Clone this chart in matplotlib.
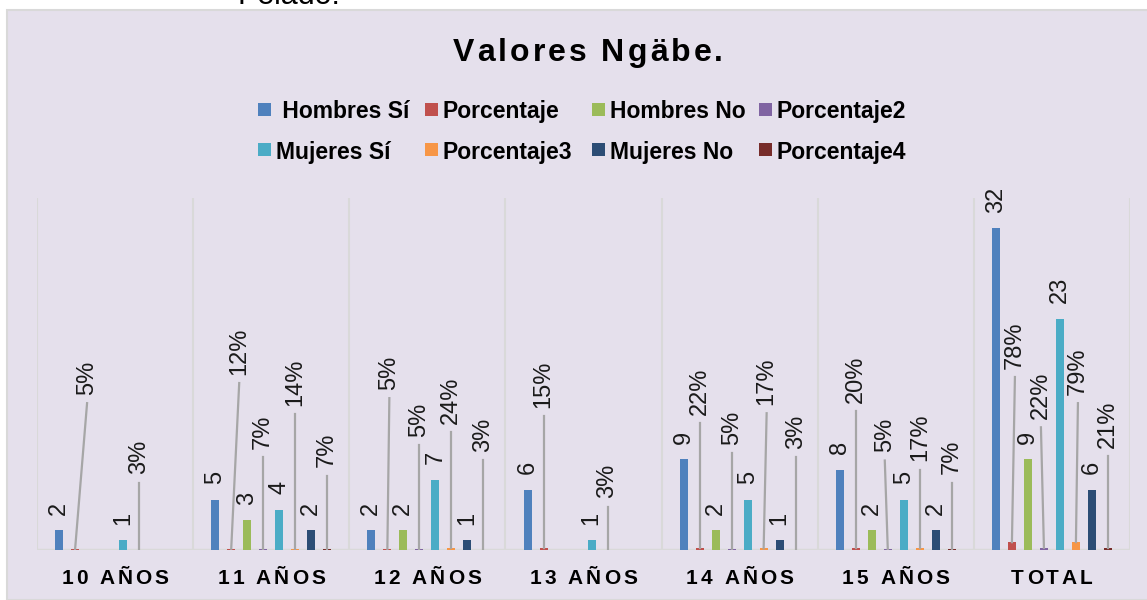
import matplotlib
matplotlib.use("Agg")
import matplotlib.pyplot as plt
from matplotlib.patches import Rectangle
import numpy as np

plt.rcParams['font.family'] = ['Liberation Sans', 'DejaVu Sans']

nan = np.nan

# data
categories = ["10 AÑOS", "11 AÑOS", "12 AÑOS", "13 AÑOS", "14 AÑOS", "15 AÑOS", "TOTAL"]
series_names = [" Hombres Sí", "Porcentaje", "Hombres No", "Porcentaje2",
                "Mujeres Sí", "Porcentaje3", "Mujeres No", "Porcentaje4"]
hombres_si = [2, 5, 2, 6, 9, 8, 32]
porcentaje = [0.05, 0.12, 0.05, 0.15, 0.22, 0.20, 0.78]
hombres_no = [nan, 3, 2, nan, 2, 2, 9]
porcentaje2 = [nan, 0.07, 0.05, nan, 0.05, 0.05, 0.22]
mujeres_si = [1, 4, 7, 1, 5, 5, 23]
porcentaje3 = [0.03, 0.14, 0.24, 0.03, 0.17, 0.17, 0.79]
mujeres_no = [nan, 2, 1, nan, 1, 2, 6]
porcentaje4 = [nan, 0.07, 0.03, nan, 0.03, 0.07, 0.21]

colors = ["#4F81BD", "#C0504D", "#9BBB59", "#8064A2",
          "#4BACC6", "#F79646", "#2C4D75", "#772C2A"]

# where the percent labels were dragged to (top of leader line, in data units)
lift_p = [14.6, 16.6, 15.1, 13.3, 12.6, 13.8, 17.2]
lift_p2 = [nan, 9.2, 10.4, nan, 9.6, 8.9, 12.2]
lift_p3 = [6.7, 13.5, 11.7, 4.3, 13.6, 8.0, 14.6]
lift_p4 = [nan, 7.4, 8.9, nan, 9.2, 6.7, 9.3]
# sideways shift of the label, pixels
dx_p = [12, 8, 2, 0, 0, 0, 3]
dx_p2 = [0, 0, 0, 0, 0, -3, -3]
dx_p3 = [0, 0, 0, 0, 3, 0, 2]
dx_p4 = [0, 0, 0, 0, 0, 0, 0]

W, H = 1147, 600
fig = plt.figure(figsize=(W / 100, H / 100), dpi=100)
fig.patch.set_facecolor("white")

# chart area background
fig.patches.append(Rectangle((7 / W, 0), 1 - 7 / W + 0.01, 1 - 10 / H,
                             transform=fig.transFigure, facecolor="#E5E0EC",
                             edgecolor="#D9D9D9", lw=1.5, zorder=-10))
fig.text(237 / W, 1 - 4 / H, "Pelado.", fontsize=22, va="baseline", ha="left", color="black")

ax = fig.add_axes([37 / W, 1 - 550 / H, (1130 - 37) / W, (550 - 198) / H])
ax.set_facecolor("none")
ax.set_xlim(-0.5, len(categories) - 0.5)
ax.set_ylim(0, 35)
for s in ax.spines.values():
    s.set_visible(False)
ax.set_xticks([])
ax.set_yticks([])

for b in np.arange(-0.5, len(categories), 1.0):
    ax.axvline(b, color="#D9D9D9", lw=1.5, zorder=0)
ax.axhline(0, color="#D9D9D9", lw=2.5, zorder=0)

px = (len(categories)) / (1130 - 37)  # data units per pixel in x
slot = 16 * px
bw = 8 * px
x = np.arange(len(categories))

all_series = [hombres_si, porcentaje, hombres_no, porcentaje2,
              mujeres_si, porcentaje3, mujeres_no, porcentaje4]
lifts = {1: (lift_p, dx_p), 3: (lift_p2, dx_p2), 5: (lift_p3, dx_p3), 7: (lift_p4, dx_p4)}

for i, vals in enumerate(all_series):
    vals = np.array(vals, dtype=float)
    xs = x + (i - 3.5) * slot
    ok = ~np.isnan(vals)
    ax.bar(xs[ok], vals[ok], width=bw, color=colors[i], zorder=2)
    if i % 2 == 0:
        for xx, v in zip(xs[ok], vals[ok]):
            ax.annotate("%d" % v, (xx, v), xytext=(0, 11), textcoords="offset points",
                        rotation=90, ha="center", va="bottom", fontsize=17, color="#1a1a1a")
    else:
        lift, dxs = lifts[i]
        for j in range(len(vals)):
            if not ok[j]:
                continue
            x0 = xs[j]
            x1 = xs[j] + dxs[j] * px
            ax.plot([x0, x1], [vals[j], lift[j]], color="#A6A6A6", lw=1.6, zorder=3)
            ax.annotate("%d%%" % round(vals[j] * 100), (x1, lift[j]), xytext=(0, 6),
                        textcoords="offset points", rotation=90, ha="center", va="bottom",
                        fontsize=17, color="#1a1a1a")


def spaced_text(s, cx, y, gap, **kw):
    # letter spaced text centred at cx (pixels), baseline y (pixels from top)
    r = fig.canvas.get_renderer()
    bar_w = fig.text(0, 0, "||", **kw)
    base = bar_w.get_window_extent(r).width
    bar_w.remove()
    widths = []
    for ch in s:
        t = fig.text(0, 0, "|" + ch + "|", **kw)
        widths.append(t.get_window_extent(r).width - base)
        t.remove()
    total = sum(widths) + gap * (len(s) - 1)
    pos = cx - total / 2
    for ch, w in zip(s, widths):
        if ch != " ":
            fig.text(pos / W, 1 - y / H, ch, ha="left", va="baseline", **kw)
        pos += w + gap


spaced_text("Valores Ngäbe.", 588, 61, 3, fontsize=23, fontweight="bold", color="black")
for j, c in enumerate(categories):
    cx = 37 + (j + 0.5) * (1130 - 37) / len(categories)
    spaced_text(c, cx, 584, 3, fontsize=15, fontweight="bold", color="black")

# legend, Excel style: 4 equal columns, 2 rows
leg_x0, leg_col, leg_rows = 258, 167, [109, 150]
for k, name in enumerate(series_names):
    row, col = divmod(k, 4)
    mx = leg_x0 + col * leg_col
    my = leg_rows[row]
    fig.patches.append(Rectangle((mx / W, 1 - (my + 6.5) / H), 13 / W, 13 / H,
                                 transform=fig.transFigure, facecolor=colors[k],
                                 edgecolor="none"))
    fig.text((mx + 18) / W, 1 - my / H, name, ha="left", va="center_baseline",
             fontsize=16.5, fontweight="bold", color="black")

fig.savefig("out.png", dpi=100, facecolor=fig.get_facecolor())
